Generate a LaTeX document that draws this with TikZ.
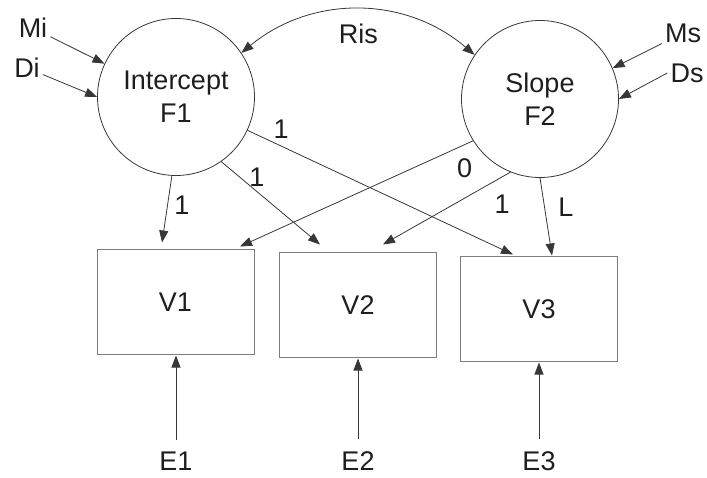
\documentclass[tikz,border=0pt]{standalone}
\usepackage{fontspec}
\setmainfont{Liberation Sans}
\usetikzlibrary{positioning,calc}
\usetikzlibrary{arrows.meta}
\definecolor{InkGray}{RGB}{55,55,55}
\definecolor{BoxGray}{RGB}{125,125,125}
\definecolor{TextInk}{RGB}{30,30,30}
\tikzset{
  latent/.style={circle,draw=InkGray,line width=0.8pt,minimum size=157pt,inner sep=0pt,align=center},
  obs/.style={rectangle,draw=BoxGray,line width=1pt,minimum width=157pt,minimum height=105pt},
  err/.style={inner sep=1pt},
  src/.style={inner sep=3pt},
  load/.style={draw=InkGray,line width=0.8pt,-{Triangle[length=12pt,width=9pt]}},
}
\tikzset{lbl/.style={inner sep=0pt,text=TextInk}}

\begin{document}
\begin{tikzpicture}[x=1pt,y=-1pt,font=\fontsize{27}{33}\selectfont,text=TextInk]
\useasboundingbox (0,0) rectangle (707,478);
% factors
\node[latent] (F1) at (176,97) {Intercept\\F1};
\node[latent] (F2) at (540,99) {Slope\\F2};
% indicators
\node[obs] (V1) at (175.5,302.5) {V1};
\node[obs] (V2) at (358,305.5) {V2};
\node[obs] (V3) at (539,309.5) {V3};
% errors
\node[err] (E1) at (176,461) {E1};
\node[err] (E2) at (358,461) {E2};
\node[err] (E3) at (539,461) {E3};
% means and disturbances
\node[src] (Mi) at (33,28) {Mi};
\node[src] (Di) at (27,68) {Di};
\node[src] (Ms) at (683,33) {Ms};
\node[src] (Ds) at (687,73) {Ds};
\draw[load] (Mi) -- (F1.155);
\draw[load] (Di) -- (F1.180);
\draw[load] (Ms) -- (F2.23);
\draw[load] (Ds.west) -- (F2.0);
% covariance
\draw[load,{Triangle[length=12pt,width=9pt]}-{Triangle[length=12pt,width=9pt]}] (F1.34) to[bend left=40] node[midway,below=14pt,lbl] {Ris} (F2.146);
% loadings
\draw[load] (F1.267) -- node[lbl,pos=0.41,xshift=14pt,yshift=-2pt] {1} ([xshift=-13.5pt,yshift=7pt]V1.north);
\draw[load] (F1.-55) -- node[lbl,pos=0.29,xshift=7pt,yshift=8pt] {1} ([xshift=-38pt,yshift=8pt]V2.north);
\draw[load] (F1.-25) -- node[lbl,pos=0.1,xshift=7pt,yshift=14pt] {1} ([xshift=-26pt,yshift=2pt]V3.north);
\draw[load] (F2.212) -- node[lbl,pos=0.075,xshift=9pt,yshift=-19pt] {0} ([xshift=64.5pt,yshift=3pt]V1.north);
\draw[load] (F2.248) -- node[lbl,pos=0.16,xshift=12pt,yshift=-20pt] {1} ([xshift=25pt,yshift=8pt]V2.north);
\draw[load] (F2.270) -- node[lbl,pos=0.41,xshift=21pt,yshift=3pt] {L} ([xshift=13pt,yshift=1pt]V3.north);
% residuals
\draw[load,shorten <=11pt] (E1) -- (V1.south -| E1);
\draw[load,shorten <=11pt] (E2) -- (V2.south -| E2);
\draw[load,shorten <=11pt] (E3) -- (V3.south -| E3);
\end{tikzpicture}
\end{document}
